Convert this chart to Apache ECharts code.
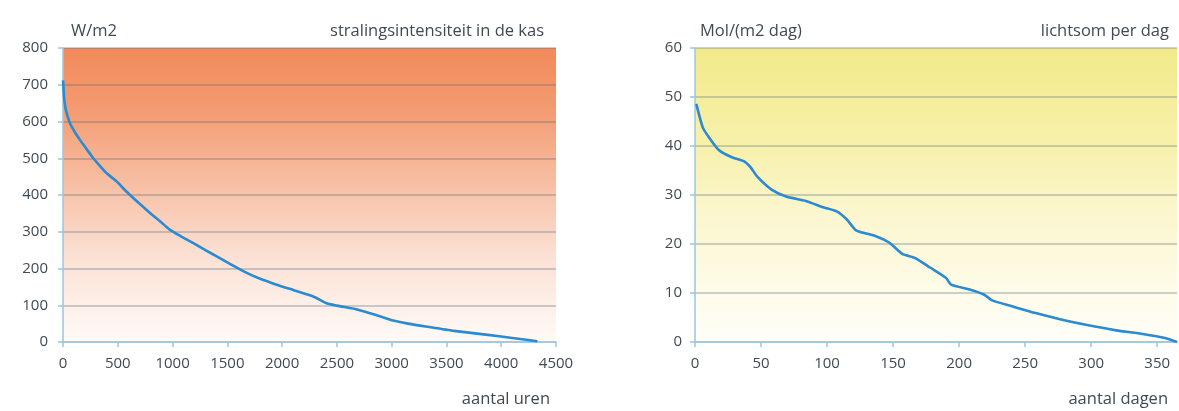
<!DOCTYPE html>
<html>
<head>
<meta charset="utf-8">
<script src="https://cdn.jsdelivr.net/npm/echarts@6/dist/echarts.min.js"></script>
<style>
  html, body { margin: 0; padding: 0; background: #ffffff; }
  #chart { width: 1179px; height: 411px; }
</style>
</head>
<body>
<div id="chart"></div>
<script>
// Left chart: stralingsintensiteit in de kas (hours sorted by W/m2)
const hours = [0, 3, 9, 20, 34, 64, 110, 155, 215, 277, 340, 399, 490, 560, 612, 700, 794, 880, 977, 1080, 1190, 1300, 1403, 1540, 1677, 1800, 1950, 2107, 2285, 2400, 2500, 2692, 2850, 3001, 3150, 3311, 3550, 3860, 4102, 4330];
const wattValues = [712, 700, 668, 640, 622, 595, 570, 550, 525, 500, 478, 459, 437, 415, 400, 376, 351, 330, 305, 287, 269, 250, 233, 210, 188, 172, 156, 141, 124, 106, 99, 88, 74, 59, 50, 42, 31, 20, 11, 2];
const hourTicks = [0, 500, 1000, 1500, 2000, 2500, 3000, 3500, 4000, 4500];
const wattTicks = [0, 100, 200, 300, 400, 500, 600, 700, 800];

// Right chart: lichtsom per dag (days sorted by Mol/(m2 dag))
const days = [1, 6, 11, 18, 28, 37, 42, 47, 58, 69, 84, 97, 107, 115, 122, 137, 147, 157, 167, 178, 190, 194, 208, 219, 225, 240, 258, 278, 298, 319, 339, 356, 365];
const molValues = [48.6, 43.7, 41.6, 39.2, 37.7, 36.9, 35.7, 33.8, 31.1, 29.7, 28.8, 27.5, 26.7, 25.0, 22.8, 21.6, 20.3, 18.0, 17.1, 15.2, 13.1, 11.7, 10.7, 9.65, 8.5, 7.3, 5.9, 4.55, 3.4, 2.37, 1.63, 0.82, 0.0];
const dayTicks = [0, 50, 100, 150, 200, 250, 300, 350];
const molTicks = [0, 10, 20, 30, 40, 50, 60];

const FONT = 'Open Sans';
const TXT = '#3f4a54';
const AXIS = '#9cc6dc';
const GRIDLINE = 'rgba(70,100,115,0.38)';
const plain = v => String(v);

const chart = echarts.init(document.getElementById('chart'), null, { renderer: 'canvas' });

function titleText(text, pos) {
  return Object.assign({
    text: text,
    textStyle: { fontFamily: FONT, fontSize: 16.5, fontWeight: 'normal', color: TXT }
  }, pos);
}

const tickLabel = (vals, margin) => ({
  fontFamily: FONT, fontSize: 15, color: TXT, margin: margin,
  customValues: vals, formatter: plain
});

const option = {
  backgroundColor: '#ffffff',
  animation: false,
  title: [
    titleText('W/m2', { left: 66, top: 18 }),
    titleText('stralingsintensiteit in de kas', { right: 630, top: 18 }),
    titleText('aantal uren', { right: 624, top: 386 }),
    titleText('Mol/(m2 dag)', { left: 695, top: 18 }),
    titleText('lichtsom per dag', { right: 5, top: 18 }),
    titleText('aantal dagen', { right: 6, top: 386 })
  ],
  grid: [
    {
      left: 63, top: 48, width: 493, height: 294,
      show: true, borderWidth: 0,
      backgroundColor: {
        type: 'linear', x: 0, y: 0, x2: 0, y2: 1,
        colorStops: [
          { offset: 0, color: '#f28a5b' },
          { offset: 0.2, color: '#f39a70' },
          { offset: 0.45, color: '#f7bda2' },
          { offset: 0.7, color: '#fbe0d3' },
          { offset: 1, color: '#fffaf7' }
        ]
      }
    },
    {
      left: 695, top: 48, width: 482, height: 294,
      show: true, borderWidth: 0,
      backgroundColor: {
        type: 'linear', x: 0, y: 0, x2: 0, y2: 1,
        colorStops: [
          { offset: 0, color: '#f2ea8a' },
          { offset: 0.3, color: '#f7f0a8' },
          { offset: 0.55, color: '#fbf6cc' },
          { offset: 0.8, color: '#fefbe6' },
          { offset: 1, color: '#fffef8' }
        ]
      }
    }
  ],
  xAxis: [
    {
      gridIndex: 0, type: 'value', min: 0, max: 4500, interval: 500,
      axisLine: { show: true, lineStyle: { color: AXIS, width: 1.5 } },
      axisTick: { show: true, length: 5, lineStyle: { color: AXIS, width: 1.5 } },
      axisLabel: tickLabel(hourTicks, 14),
      splitLine: { show: false }
    },
    {
      gridIndex: 1, type: 'value', min: 0, max: 365,
      axisLine: { show: true, lineStyle: { color: AXIS, width: 1.5 } },
      axisTick: { show: true, length: 5, lineStyle: { color: AXIS, width: 1.5 },
        customValues: dayTicks },
      axisLabel: tickLabel(dayTicks, 14),
      splitLine: { show: false }
    }
  ],
  yAxis: [
    {
      gridIndex: 0, type: 'value', min: 0, max: 800, interval: 100,
      axisLine: { show: true, lineStyle: { color: AXIS, width: 1.5 } },
      axisTick: { show: true, length: 5, lineStyle: { color: AXIS, width: 1.5 } },
      axisLabel: tickLabel(wattTicks, 15),
      splitLine: { show: true, lineStyle: { color: GRIDLINE, width: 1.5 } }
    },
    {
      gridIndex: 1, type: 'value', min: 0, max: 60, interval: 10,
      axisLine: { show: true, lineStyle: { color: AXIS, width: 1.5 } },
      axisTick: { show: true, length: 5, lineStyle: { color: AXIS, width: 1.5 } },
      axisLabel: tickLabel(molTicks, 13),
      splitLine: { show: true, lineStyle: { color: GRIDLINE, width: 1.5 } }
    }
  ],
  series: [
    {
      type: 'line', xAxisIndex: 0, yAxisIndex: 0,
      data: hours.map((h, i) => [h, wattValues[i]]),
      showSymbol: false, smooth: 0.2,
      lineStyle: { color: '#2b8ad0', width: 2.6 },
      z: 5
    },
    {
      type: 'line', xAxisIndex: 1, yAxisIndex: 1,
      data: days.map((d, i) => [d, molValues[i]]),
      showSymbol: false, smooth: 0.2,
      lineStyle: { color: '#2b8ad0', width: 2.6 },
      z: 5
    }
  ]
};

chart.setOption(option);
</script>
</body>
</html>
